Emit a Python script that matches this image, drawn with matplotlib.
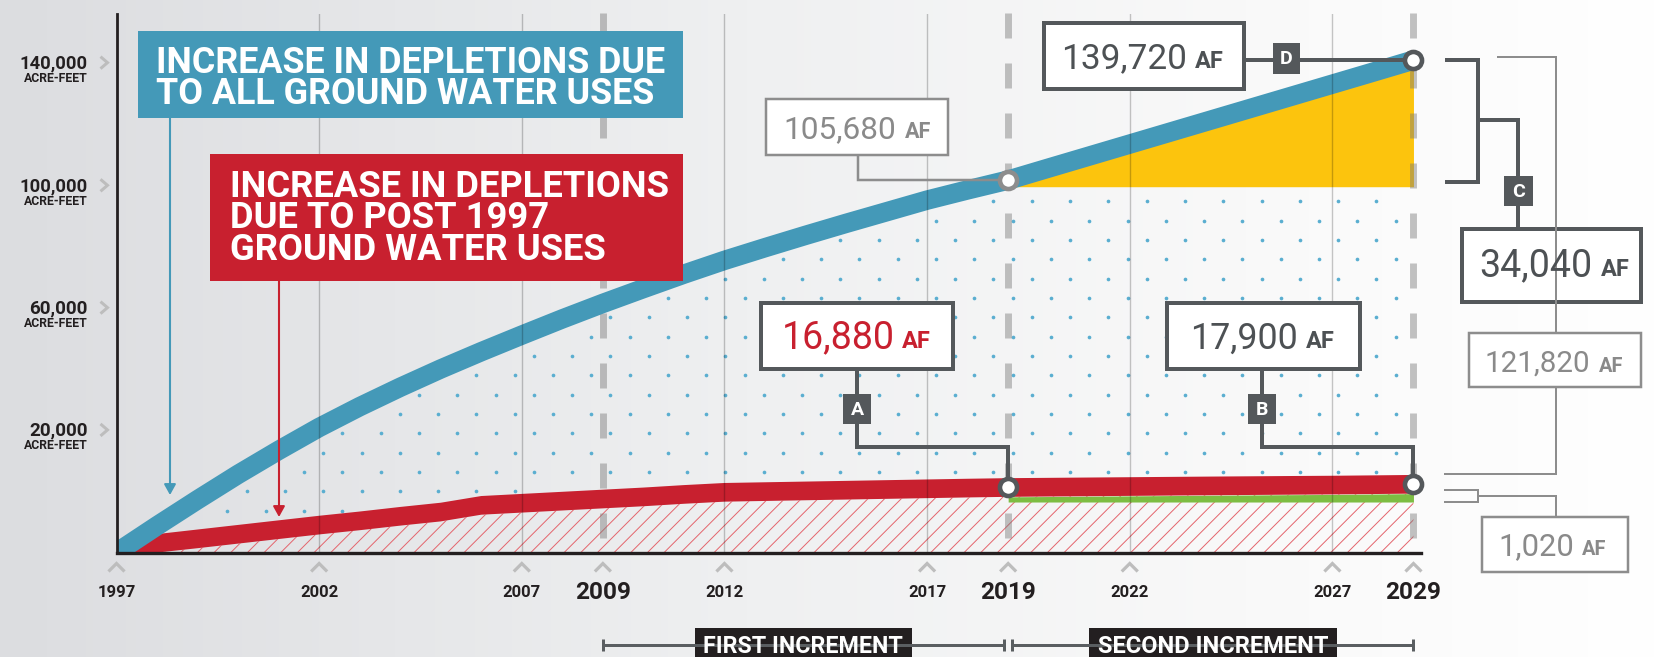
import numpy as np
import matplotlib
matplotlib.use('Agg')
import matplotlib.pyplot as plt
from matplotlib import font_manager as fm
from matplotlib.colors import LinearSegmentedColormap
from matplotlib.patches import Rectangle, Polygon

# ---- data (acre-feet) ----
years = np.arange(1997, 2030)
all_gw = [0, 7600, 15000, 22200, 29000, 35500, 41400, 46900, 52100, 57000,
          61700, 66300, 70700, 74900, 79000, 82900, 86500, 90000, 93400, 96700,
          100000, 102900, 105680, 109100, 112500, 115900, 119300, 122700,
          126100, 129500, 132900, 136300, 139720]
post_years = np.arange(1998, 2030)
post_1997 = [2600, 3900, 5200, 6500, 7800, 9000, 10300, 11500, 13400, 14000,
             14600, 15200, 15800, 16500, 17100, 17300, 17500, 17700, 17900,
             18100, 18300, 18470, 18560, 18650, 18740, 18830, 18920, 19000,
             19080, 19150, 19260, 19380]
yellow_base = 103800
green_base = 14350

minor_years = [1997, 2002, 2007, 2012, 2017, 2022, 2027]
major_years = [2009, 2019, 2029]
ytick_pos = [34800, 69500, 104200, 139000]
ytick_labels = ['20,000', '60,000', '100,000', '140,000']

blue_title = ['INCREASE IN DEPLETIONS DUE', 'TO ALL GROUND WATER USES']
red_title = ['INCREASE IN DEPLETIONS', 'DUE TO POST 1997', 'GROUND WATER USES']

BLUE = '#4499b8'
RED = '#c8202f'
YELLOW = '#fcc40d'
GREEN = '#7dbd42'
DOT = '#5aaed0'
DARK = '#54585b'
GRAY = '#8d8d8d'
INK = '#231f20'

FONTS = {'normal': fm.FontProperties(family=['Roboto', 'DejaVu Sans']),
         'bold': fm.FontProperties(family=['Roboto', 'DejaVu Sans'], weight='bold')}

plt.rcParams['lines.scale_dashes'] = False
plt.rcParams['hatch.linewidth'] = 0.7

W, H = 1660, 657
fig = plt.figure(figsize=(W / 100, H / 100), dpi=100)

# background gradient
bg = fig.add_axes([0, 0, 1, 1], zorder=-5)
cmap = LinearSegmentedColormap.from_list(
    'bg', [(0, '#dcdde0'), (0.45, '#eff0f1'), (0.75, '#f9f9f9'), (1, '#ffffff')])
bg.imshow(np.linspace(0, 1, 500)[None, :], aspect='auto', cmap=cmap,
          extent=[0, 1, 0, 1])
bg.axis('off')

# main axes, pixel box: x 116.5..1421, y 14..552.6
ax = fig.add_axes([116.5 / W, 1 - 552.6 / H, (1421 - 116.5) / W, (552.6 - 14) / H])
ax.patch.set_alpha(0)
ax.set_xlim(1997, 1997 + (1421 - 116.5) / 40.53)
ax.set_ylim(0, (552.6 - 14) * 283.7)
for s in ['top', 'right']:
    ax.spines[s].set_visible(False)
ax.spines['left'].set_color(INK)
ax.spines['left'].set_linewidth(2.0)
ax.spines['bottom'].set_color(INK)
ax.spines['bottom'].set_linewidth(2.4)
ax.spines['left'].set_zorder(6)
ax.spines['bottom'].set_zorder(6)
ax.set_xticks([])
ax.set_yticks([])

red = np.array(post_1997, float)
blue = np.array(all_gw, float)
HB = 2650  # half thickness of red band
red_up = red + HB
red_lo = np.maximum(red - HB, 0)

# dotted texture between red and blue
inv = ax.transData.inverted()
pts = []
for k in range(0, 26):
    ypx = 530 - 19.33 * k
    for j in range(-1, 40):
        xpx = 170 + 38.3 * j + (k % 2) * 19.15
        pts.append(inv.transform((xpx, H - ypx)))
pts = np.array(pts)
dx, dy = pts[:, 0], pts[:, 1]
keep = (dx > 1997.3) & (dx < 2028.9)
keep &= dy > np.interp(dx, post_years, red_up) + 600
keep &= dy < np.interp(dx, years, blue) - 4200
keep &= ~((dx >= 2018.9) & (dy > yellow_base - 1200))
ax.scatter(dx[keep], dy[keep], s=7, color=DOT, linewidths=0, zorder=1)

# hatched area under red band
hx = np.concatenate([[1997.4], post_years])
hy = np.concatenate([[0], red_lo])
ax.fill_between(hx, 0, hy, facecolor='none', edgecolor='#e4646c', hatch='//',
                linewidth=0, zorder=1)

# yellow wedge
m = years >= 2019
ax.fill_between(years[m], yellow_base, blue[m], color=YELLOW, linewidth=0, zorder=2)

# dashed increment lines
ytop_d = (552.6 - 13) * 283.7
for yr in major_years:
    ax.plot([yr, yr], [ytop_d, 0], color='#7a7a7a', alpha=0.45, lw=5,
            ls=(0, (18, 18)), dash_capstyle='butt', zorder=2.5, clip_on=False)

# green increase after 2019
g = post_years >= 2019
ax.fill_between(post_years[g], green_base, red_lo[g], color=GREEN, linewidth=0, zorder=3)

# red band
verts = [(1997.4, 0)] + list(zip(post_years, red_up)) + list(zip(post_years[::-1], red_lo[::-1]))
ax.add_patch(Polygon(verts, closed=True, fc=RED, ec='none', zorder=3.2))

# blue line
ax.plot(years, blue, color=BLUE, lw=14, solid_capstyle='butt', zorder=3.5)

# thin year lines
ytop = ax.get_ylim()[1]
for yr in minor_years[1:]:
    ax.plot([yr, yr], [0, ytop], color='black', alpha=0.22, lw=1.0, zorder=4)

# ---- overlay in pixel coordinates ----
ov = fig.add_axes([0, 0, 1, 1], zorder=5)
ov.set_xlim(0, W)
ov.set_ylim(H, 0)
ov.axis('off')
ov.patch.set_alpha(0)
renderer = fig.canvas.get_renderer()


def px(x, y):
    d = ax.transData.transform((x, y))
    return d[0], H - d[1]


def line(xs, ys, color, lw_px):
    ov.plot(xs, ys, color=color, lw=lw_px * 0.72, solid_capstyle='butt',
            solid_joinstyle='miter')


def text(x, y, s, w=None, size=12, ha='left', va='baseline', weight='normal',
         color=INK, maxsize=None):
    fp = FONTS[weight].copy()
    fp.set_size(size)
    t = ov.text(x, y, s, fontproperties=fp, ha=ha, va=va, color=color)
    if w:
        bb = t.get_window_extent(renderer)
        new = size * w / bb.width
        if maxsize:
            new = min(new, maxsize)
        t.set_fontsize(new)
    return t


def ml_text(x, y, lines, width, pitch, color, maxsize=30):
    # several lines in one text; y is the first baseline, width of line 1, pitch in px
    fp = FONTS['bold'].copy()
    fp.set_size(20)
    w0, _, _ = renderer.get_text_width_height_descent(lines[0], fp, ismath=False)
    fp.set_size(min(20 * width / w0, maxsize))
    _, h, d = renderer.get_text_width_height_descent('lp', fp, ismath=False)
    a = h - d
    ov.text(x, y - a, '\n'.join(lines), fontproperties=fp, ha='left', va='top',
            color=color, linespacing=(pitch - d) / a)


def box(x0, y0, x1, y1, edge, lw_px, face='white'):
    ov.add_patch(Rectangle((x0, y0), x1 - x0, y1 - y0, fc=face, ec=edge,
                           lw=lw_px * 0.72, joinstyle='miter'))


def value_box(b, edge, lw_px, num, ncol, nx, afx, base):
    box(*b, edge, lw_px)
    text(nx[1], base, num, w=nx[1] - nx[0], size=24, ha='right', color=ncol, maxsize=27)
    text(afx[0], base, 'AF', w=afx[1] - afx[0], size=14, weight='bold', color=ncol,
         maxsize=17)


def badge(x0, y0, x1, y1, letter):
    box(x0, y0, x1, y1, DARK, 0, face=DARK)
    text((x0 + x1) / 2, (y0 + y1) / 2 + 1, letter, size=14, ha='center',
         va='center', weight='bold', color='white')


# title boxes with arrows
box(138, 31, 683, 118, BLUE, 0, face=BLUE)
ml_text(156, 72.7, blue_title, 509, 31.3, 'white')
box(210, 154, 683, 280.7, RED, 0, face=RED)
ml_text(230, 196.7, red_title, 439, 31.7, 'white')

ov.annotate('', xy=(170, 495), xytext=(170, 118),
            arrowprops=dict(arrowstyle='-|>,head_length=0.45,head_width=0.25',
                            color=BLUE, lw=1.5, mutation_scale=14, shrinkA=0, shrinkB=0))
ov.annotate('', xy=(279, 517), xytext=(279, 280.7),
            arrowprops=dict(arrowstyle='-|>,head_length=0.45,head_width=0.25',
                            color=RED, lw=1.5, mutation_scale=14, shrinkA=0, shrinkB=0))

# data points used by callouts
b19 = px(2019, all_gw[22])
b29 = px(2029, all_gw[32])
r19 = px(2019, post_1997[21])
r29 = px(2029, post_1997[31])

# 105,680 callout
line([858, 858, b19[0]], [155, b19[1], b19[1]], GRAY, 2.5)
value_box((766, 99.3, 948, 155), GRAY, 2.5, '105,680', '#8a8a8a', (783, 896), (905, 931.5), 138.3)

# 139,720 callout (D)
line([1244, b29[0]], [b29[1], b29[1]], DARK, 4)
value_box((1044, 23.3, 1244, 89.3), DARK, 4, '139,720', '#4d5154', (1061, 1187), (1195, 1225.5), 68.3)
badge(1272.5, 43, 1300, 74, 'D')

# 16,880 callout (A)
line([857.4, 857.4, r19[0], r19[0]], [369, 446.7, 446.7, r19[1]], DARK, 4)
value_box((761, 302.8, 953, 369.3), DARK, 4, '16,880', RED, (781, 895), (902, 933), 348.3)
badge(843, 394, 871, 424, 'A')

# 17,900 callout (B)
line([1262, 1262, r29[0], r29[0]], [369, 446.7, 446.7, r29[1]], DARK, 4)
value_box((1167, 302.8, 1359.5, 369.3), DARK, 4, '17,900', '#4d5154', (1190, 1298), (1306, 1337), 348.3)
badge(1248, 394, 1276, 424, 'B')

# bracket C -> 34,040
line([1445, 1477.5, 1477.5, 1445], [b29[1], b29[1], 181.7, 181.7], DARK, 4)
line([1477.5, 1518.3, 1518.3], [120, 120, 229], DARK, 4)
value_box((1462, 229, 1641, 301.7), DARK, 4, '34,040', '#4d5154', (1478, 1592), (1601, 1632), 276.5)
badge(1504, 176, 1533, 205.7, 'C')

# thin bracket -> 121,820
line([1497, 1555.7, 1555.7], [57.3, 57.3, 332.7], GRAY, 2)
line([1555.7, 1555.7, 1444], [387.3, 474.3, 474.3], GRAY, 2)
value_box((1468.5, 332.7, 1641, 387.3), GRAY, 2.5, '121,820', '#8a8a8a', (1484, 1590), (1599, 1623.5), 371.7)

# small bracket -> 1,020
line([1444, 1477.7, 1477.7, 1444], [490, 490, 501.7, 501.7], GRAY, 2)
line([1477.7, 1555.7, 1555.7], [495.8, 495.8, 516.7], GRAY, 2)
value_box((1482, 516.7, 1628, 571.7), GRAY, 2.5, '1,020', '#8a8a8a', (1498, 1574), (1582, 1606.5), 555)

# circles
for (cx, cy), ec in [(b19, GRAY), (b29, DARK), (r19, DARK), (r29, DARK)]:
    ov.plot(cx, cy, 'o', ms=12.3, mfc='white', mec=ec, mew=3.3, zorder=10)

# y tick labels with chevrons
for v, lab in zip(ytick_pos, ytick_labels):
    _, ty = px(1997, v)
    line([100.5, 107.5, 100.5], [ty - 6, ty, ty + 6], '#bdbdbd', 3)
    text(87.5, ty + 6, lab, w=68 if len(lab) == 7 else 58.5, size=13, ha='right',
         weight='bold', color=INK, maxsize=14)
    text(87.5, ty + 19.2, 'ACRE-FEET', w=64, size=9.5, ha='right', weight='bold',
         color=INK, maxsize=10)

# x tick labels with chevrons
small_size = None
big_size = None
for yr in sorted(minor_years + major_years):
    tx, _ = px(yr, 0)
    line([tx - 8, tx, tx + 8], [571.5, 563.5, 571.5], '#bdbdbd', 3.2)
    if yr in major_years:
        t = text(tx, 599.3, str(yr), w=None if big_size else 55.8, size=big_size or 18,
                 ha='center', weight='bold', color=INK, maxsize=18.5)
        big_size = t.get_fontsize()
    else:
        t = text(tx, 596.7, str(yr), w=None if small_size else 38, size=small_size or 13,
                 ha='center', weight='bold', color=INK, maxsize=14)
        small_size = t.get_fontsize()

# increment brackets
x09, _ = px(2009, 0)
x19, _ = px(2019, 0)
x29, _ = px(2029, 0)
line([x09, x19 - 4], [645, 645], '#5a5e61', 3)
line([x19 + 4, x29], [645, 645], '#5a5e61', 3)
for xt in [x09, x19 - 4, x19 + 4, x29]:
    line([xt, xt], [639, 651], '#5a5e61', 3)
box(695, 628.3, 911.7, 665, INK, 0, face=INK)
text(803.3, 653.3, 'FIRST INCREMENT', w=200, size=17, ha='center', weight='bold',
     color='white', maxsize=18.5)
box(1089, 628.3, 1337, 665, INK, 0, face=INK)
text(1213, 653.3, 'SECOND INCREMENT', w=231, size=17, ha='center', weight='bold',
     color='white', maxsize=18.5)

fig.savefig('out.png', dpi=100)
